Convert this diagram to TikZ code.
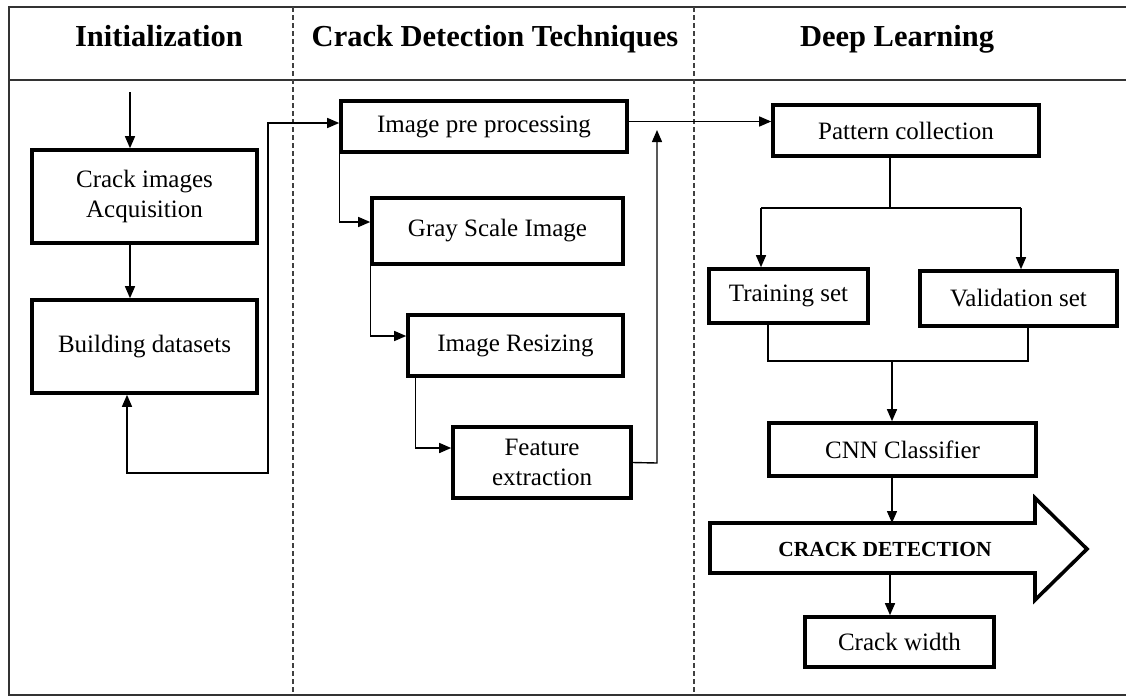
\documentclass[tikz,border=0pt]{standalone}
\usepackage{fontspec}
\setmainfont{Liberation Serif}
\usetikzlibrary{arrows.meta}
\tikzset{
  box/.style={draw, line width=3.6pt, rectangle, inner sep=0pt, align=center, font=\fontsize{25}{29.5}\selectfont},
  arr/.style={line width=1.4pt, -{Triangle[length=12pt,width=10pt]}},
  ln/.style={line width=1.4pt},
  frame/.style={line width=2pt, draw=black!80},
  divider/.style={line width=1.6pt, draw=black!75, dash pattern=on 5pt off 3pt},
  title/.style={anchor=base, font=\fontsize{30.5}{36}\selectfont\bfseries}
}
\begin{document}
\begin{tikzpicture}[x=1pt, y=-1pt]
\useasboundingbox (0,0) rectangle (1126,697);
% frame
\draw[frame] (1126,7) -- (9,7) -- (9,695) -- (1126,695);
\draw[frame] (9,80) -- (1126,80);
\draw[divider] (293,7) -- (293,695);
\draw[divider] (694,7) -- (694,695);
% titles
\node[title] (t1) at (159,46) {Initialization};
\node[title] (t2) at (495,46) {Crack Detection Techniques};
\node[title] (t3) at (897,46) {Deep Learning};
% boxes
\node[box, minimum width=225pt, minimum height=93pt] (acq) at (144.5,196.5) {Crack images\\Acquisition};
\node[box, minimum width=225pt, minimum height=93pt] (build) at (144.5,346.5) {Building datasets};
\node[box, minimum width=286pt, minimum height=51pt] (pre) at (484,126.5) {Image pre processing};
\node[box, minimum width=251pt, minimum height=66pt] (gray) at (497.5,231) {Gray Scale Image};
\node[box, minimum width=215pt, minimum height=61pt] (resize) at (515.5,345.5) {Image Resizing};
\node[box, minimum width=178pt, minimum height=71pt] (feat) at (542,462.5) {Feature\\extraction};
\node[box, minimum width=266pt, minimum height=51pt] (pattern) at (906,130.5) {Pattern collection};
\node[box, minimum width=159pt, minimum height=54pt] (train) at (788.5,296) {Training set};
\node[box, minimum width=197pt, minimum height=55pt] (valid) at (1018.5,298.5) {Validation set};
\node[box, minimum width=267pt, minimum height=53pt] (cnn) at (902.5,449.5) {CNN Classifier};
\node[box, minimum width=189pt, minimum height=50pt] (width) at (899.5,642) {Crack width};
% big arrow
\draw[line width=3.6pt, line join=miter] (710,523) -- (1035,523) -- (1035,498) -- (1087,549) -- (1035,600) -- (1035,573) -- (710,573) -- cycle;
\node[font=\fontsize{21.5}{25}\selectfont\bfseries] (det) at (885,549) {CRACK DETECTION};
% coordinates
\coordinate (in) at (130,92);
\coordinate (fb1) at (127,473);
\coordinate (fb2) at (268,473);
\coordinate (fup) at (657,463);
\coordinate (fend) at (657,130);
\coordinate (sp) at (890,208);
\coordinate (tl) at (761,208);
\coordinate (tr) at (1021,208);
\coordinate (ml) at (768,361);
\coordinate (mr) at (1028,361);
\coordinate (mc) at (892,361);
\coordinate (dtop) at (892,523);
\coordinate (dbot) at (890,573);
% connectors
\draw[arr] (in) -- (in |- acq.north);
\draw[arr] (acq.south -| in) -- (build.north -| in);
\draw[ln, {Triangle[length=12pt,width=10pt]}-{Triangle[length=12pt,width=10pt]}] (build.south -| fb1) -- (fb1) -- (fb2) |- ([yshift=3.5pt]pre.west);
\draw[arr] (pre.south west) |- ([yshift=9pt]gray.west);
\draw[arr] (gray.south west) |- ([yshift=9.5pt]resize.west);
\draw[arr] ([xshift=9pt]resize.south west) |- ([yshift=14.5pt]feat.west);
\draw[arr] (feat.east) -- (fup) -- (fend);
\draw[arr] ([yshift=5pt]pre.east) -- ([yshift=5pt]pre.east -| pattern.west);
\draw[ln] (pattern.south -| sp) -- (sp);
\draw[ln] (tl) -- (tr);
\draw[arr] (tl) -- (tl |- train.north);
\draw[arr] (tr) -- (tr |- valid.north);
\draw[ln] (train.south -| ml) -- (ml) -- (mr) -- (valid.south -| mr);
\draw[arr] (mc) -- (cnn.north -| mc);
\draw[arr] (cnn.south -| dtop) -- (dtop);
\draw[arr] (dbot) -- (width.north -| dbot);
\end{tikzpicture}
\end{document}
